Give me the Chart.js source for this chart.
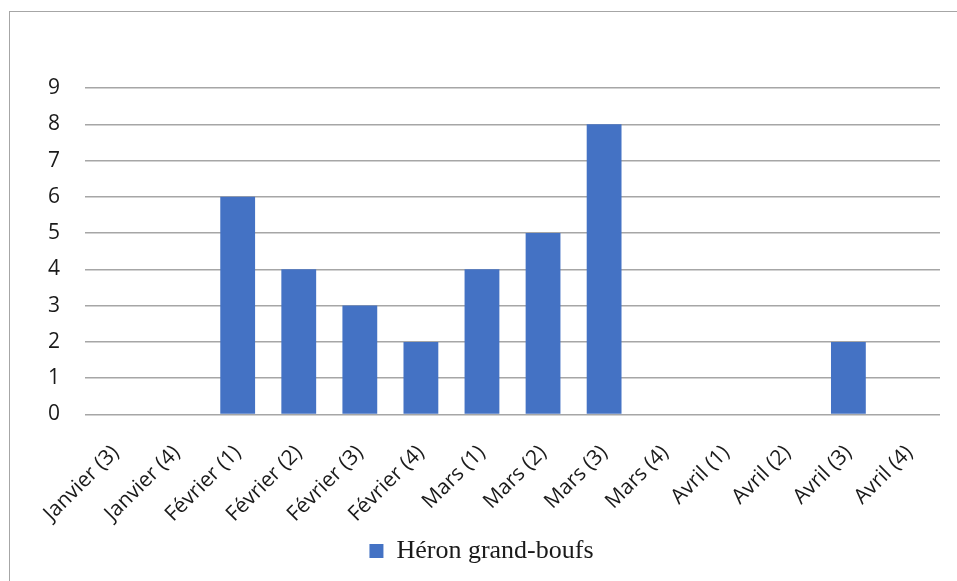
<!DOCTYPE html>
<html>
<head>
<meta charset="utf-8">
<script src="https://cdn.jsdelivr.net/npm/chart.js@4"></script>
<style>
  html, body { margin: 0; padding: 0; background: #fff; }
  #wrap { position: relative; width: 957px; height: 581px; }
  #frame { position: absolute; left: 9px; top: 11px; right: -2px; bottom: -2px; border-left: 1px solid #a6a6a6; border-top: 1px solid #a6a6a6; }
  canvas { position: absolute; left: 0; top: 0; }
</style>
</head>
<body>
<div id="wrap">
  <div id="frame"></div>
  <canvas id="chart" width="957" height="581"></canvas>
</div>
<script>
const weeks = ['Janvier (3)', 'Janvier (4)', 'Février (1)', 'Février (2)', 'Février (3)', 'Février (4)',
  'Mars (1)', 'Mars (2)', 'Mars (3)', 'Mars (4)', 'Avril (1)', 'Avril (2)', 'Avril (3)', 'Avril (4)'];
const counts = [0, 0, 6, 4, 3, 2, 4, 5, 8, 0, 0, 0, 2, 0];
const seriesName = 'Héron grand-boufs';
const yTicks = [0, 1, 2, 3, 4, 5, 6, 7, 8, 9];

new Chart(document.getElementById('chart'), {
  type: 'bar',
  data: {
    labels: weeks,
    datasets: [{
      label: seriesName,
      data: counts,
      backgroundColor: '#4472c4',
      categoryPercentage: 1,
      barPercentage: 0.57
    }]
  },
  options: {
    responsive: false,
    animation: false,
    layout: { padding: { top: 88, right: 17, left: 23, bottom: 7 } },
    plugins: {
      tooltip: { enabled: false },
      legend: {
        position: 'bottom',
        labels: {
          color: '#1a1a1a',
          font: { family: 'Liberation Serif', size: 26 },
          boxWidth: 14,
          boxHeight: 14,
          padding: 4
        }
      }
    },
    scales: {
      x: {
        grid: { display: false },
        border: { display: false },
        // rotated labels reserve more room than they need; tighten it
        afterFit: (scale) => { scale.height -= 11; },
        ticks: {
          color: '#1a1a1a',
          font: { family: 'Open Sans', size: 21 },
          minRotation: 45,
          maxRotation: 45,
          autoSkip: false,
          padding: 18
        }
      },
      y: {
        min: yTicks[0],
        max: yTicks[yTicks.length - 1],
        grid: { color: '#a6a6a6', lineWidth: 1.5, drawTicks: false },
        border: { display: false },
        ticks: {
          stepSize: 1,
          color: '#1a1a1a',
          font: { family: 'Open Sans', size: 21 },
          padding: 25
        }
      }
    }
  }
});
</script>
</body>
</html>
